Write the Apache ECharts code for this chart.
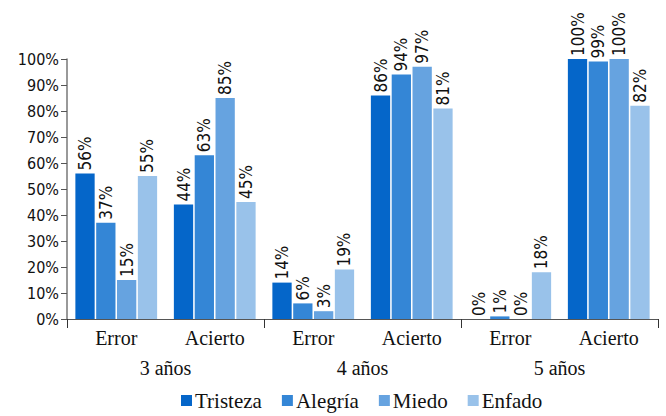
<!DOCTYPE html>
<html><head><meta charset="utf-8">
<script src="https://cdn.jsdelivr.net/npm/echarts@6/dist/echarts.min.js"></script>
<style>html,body{margin:0;padding:0;background:#fff}#c{width:666px;height:416px}</style>
</head><body><div id="c"></div>
<script>
const categories = ['Error','Acierto','Error','Acierto','Error','Acierto'];
const groups = ['3 años','4 años','5 años'];
const seriesNames = ['Tristeza','Alegría','Miedo','Enfado'];
const tristeza = [56, 44, 14, 86, 0, 100];
const alegria  = [37, 63, 6, 94, 1, 99];
const miedo    = [15, 85, 3, 97, 0, 100];
const enfado   = [55, 45, 19, 81, 18, 82];
const yTicks = [0,10,20,30,40,50,60,70,80,90,100];
const colors = ['#0566C9','#3486D6','#66A3E0','#99C2EA'];

const serif = 'Liberation Serif';
const sans = '"DejaVu Sans Condensed", "DejaVu Sans", sans-serif';
const data = [tristeza, alegria, miedo, enfado];

const chart = echarts.init(document.getElementById('c'), null, {renderer:'svg'});
chart.setOption({
  animation:false,
  color: colors,
  textStyle:{fontFamily:serif},
  grid:{left:67, right:8, top:59, bottom:97},
  legend:{
    bottom:0, left:176, itemWidth:11, itemHeight:11, itemGap:20,
    icon:'rect',
    formatter: name => '{s|' + name + '}',
    textStyle:{fontFamily:serif, fontSize:21, color:'#111',
      rich:{s:{fontFamily:serif, fontSize:21, color:'#111', padding:[0,0,0,-2]}}},
    data: seriesNames
  },
  xAxis:[
    {type:'category', data:categories, position:'bottom',
     axisLine:{show:true, lineStyle:{color:'#555', width:1}},
     axisTick:{show:false},
     axisLabel:{fontFamily:serif, fontSize:20, color:'#111', margin:9}},
    {type:'category', data:groups, position:'bottom', offset:0,
     axisLine:{show:true, lineStyle:{color:'#555', width:1}},
     axisTick:{show:true, length:9, lineStyle:{color:'#333'}},
     axisLabel:{fontFamily:serif, fontSize:20, color:'#111', margin:39}}
  ],
  yAxis:{type:'value', min:0, max:100, interval:10,
    axisLine:{show:true, lineStyle:{color:'#777', width:1.5}},
    axisTick:{show:true, length:6, lineStyle:{color:'#555'}},
    splitLine:{show:false},
    axisLabel:{fontFamily:sans, fontSize:16, color:'#111', margin:8,
      formatter: v => yTicks.includes(v) ? v + '%' : ''}},
  series: seriesNames.map((n,i)=>({
    name:n, type:'bar', xAxisIndex:0, data:data[i],
    barGap:'8%', barCategoryGap:'17%',
    itemStyle:{color:colors[i]},
    label:{show:true, position:'top', rotate:90, align:'left', verticalAlign:'middle',
      distance:3, fontFamily:sans, fontSize:17, color:'#111', formatter:'{c}%'}
  }))
});
</script></body></html>
